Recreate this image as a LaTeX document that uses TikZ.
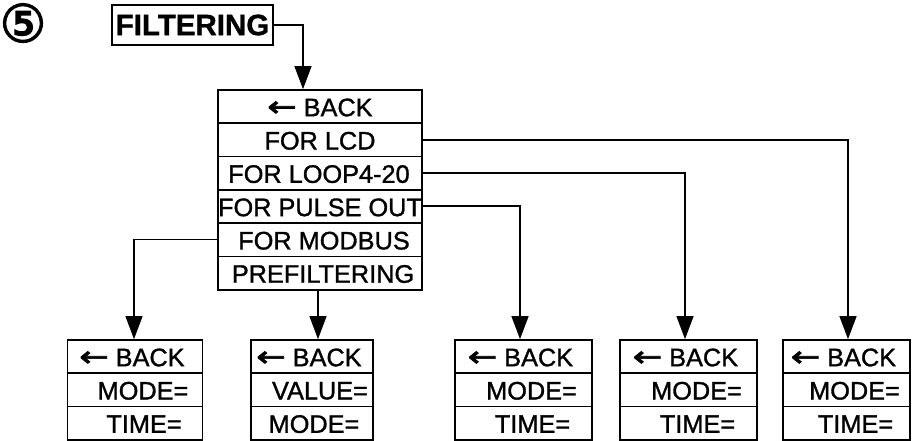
\documentclass[tikz,border=0pt]{standalone}
\usepackage{fontspec}
\setmainfont{Liberation Sans}
\newfontfamily\heavy{Liberation Sans}[FakeBold=1.2]
\newfontfamily\heavybold{Liberation Sans Bold}[FakeBold=1.0]
\newfontfamily\symfont{DejaVu Sans}[FakeBold=2.5]
\newcommand{\larr}{{\symfont\fontsize{28}{28}\selectfont\scalebox{1.25}[1]{←}}}
\usetikzlibrary{arrows.meta}
\begin{document}
\begin{tikzpicture}[x=1pt,y=-1pt,
  boxline/.style={line width=1.7pt},
  conn/.style={line width=1.2pt,-{Triangle[length=23pt,width=17pt]}},
  txt/.style={font=\heavy\fontsize{25.3}{25.3}\selectfont, inner sep=0pt, anchor=center},
]
\useasboundingbox (0,0) rectangle (912,441);
% circled number
\node[inner sep=0pt] (num) at (23,23) {\symfont\fontsize{52}{52}\selectfont ⑤};
% FILTERING
\node[draw, boxline, inner sep=0pt, minimum width=161pt, minimum height=40pt,
      font=\heavybold\fontsize{29.5}{29.5}\selectfont] (filt) at (192.5,25) {FILTERING};
% main menu box
\newcommand{\mrow}[4]{% name, ytop, text, xoffset
  \node[draw, boxline, minimum width=204pt, minimum height=33.3pt, inner sep=0pt] (#1) at (320,#2+16.65) {};
  \node[txt] (#1t) at (320+#4,#2+17.5) {#3};
}
\mrow{mback}{90}{\larr\ BACK}{0}
\mrow{mlcd}{123.3}{FOR LCD}{0}
\mrow{mloop}{156.6}{FOR LOOP4-20}{-1}
\mrow{mpulse}{189.9}{FOR PULSE OUT}{0}
\mrow{mmod}{223.2}{FOR MODBUS}{4}
\mrow{mpre}{256.5}{PREFILTERING}{3}
% bottom boxes
\newcommand{\brow}[6]{% name, xcenter, width, ytop, text, xoffset
  \node[draw, boxline, minimum width=#3pt, minimum height=33.3pt, inner sep=0pt] (#1) at (#2,#4+16.65) {};
  \node[txt] (#1t) at (#2+#6,#4+17.5) {#5};
}
\newcommand{\bbox}[6]{% prefix, xcenter, width, text2, text3, off3
  \brow{#1a}{#2}{#3}{340}{\larr\ BACK}{-3}
  \brow{#1b}{#2}{#3}{373.3}{#4}{8}
  \brow{#1c}{#2}{#3}{406.6}{#5}{#6}
}
\bbox{ba}{135}{135}{MODE=}{TIME=}{9}
\bbox{bb}{312}{122}{VALUE=}{MODE=}{2}
\bbox{bc}{523.5}{137}{MODE=}{TIME=}{9}
\bbox{bd}{688.5}{137}{MODE=}{TIME=}{9}
\bbox{be}{846.5}{127}{MODE=}{TIME=}{9}
% connectors
\coordinate (c0) at (303,25);
\draw[conn] (filt.east) -- (c0) -- (c0 |- mback.north);
\coordinate (c1) at (848,140);
\draw[conn] (mlcd.east |- c1) -- (c1) -- (c1 |- bea.north);
\coordinate (c2) at (685,173);
\draw[conn] (mloop.east |- c2) -- (c2) -- (c2 |- bda.north);
\coordinate (c3) at (520,206);
\draw[conn] (mpulse.east |- c3) -- (c3) -- (c3 |- bca.north);
\coordinate (c4) at (134,239.5);
\draw[conn] (mmod.west |- c4) -- (c4) -- (c4 |- baa.north);
\coordinate (c5) at (318,290);
\draw[conn] (c5 |- mpre.south) -- (c5 |- bba.north);
\end{tikzpicture}
\end{document}
